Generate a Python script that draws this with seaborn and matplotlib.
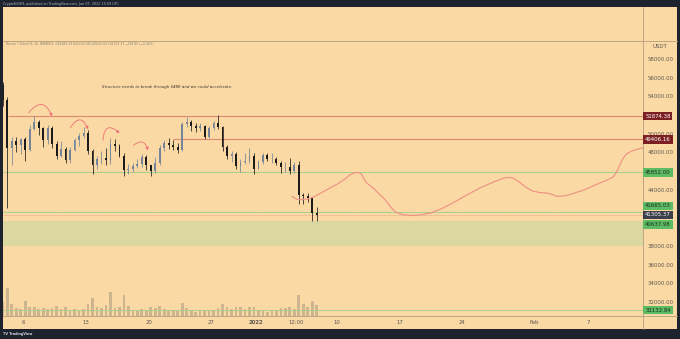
import numpy as np
import pandas as pd
import matplotlib
matplotlib.use("Agg")
import matplotlib.pyplot as plt
import matplotlib.transforms as mtransforms
from matplotlib.patches import Rectangle, FancyArrowPatch
from matplotlib.lines import Line2D
import seaborn as sns

# ---------------------------------------------------------------- data
REF = pd.Timestamp("2022-01-01")

# 12h BTC/USDT candles starting 2021-12-03 12:00 UTC
candle_start = "2021-12-03 12:00"
opens = [55200, 53600, 48500, 49200, 48800, 49400, 48300, 50500, 51300, 50600,
         49300, 50600, 48900, 47600, 48400, 47200, 48300, 49300, 49800, 50100,
         48200, 46700, 47300, 47400, 47200, 48900, 48700, 47600, 46100, 46200,
         46500, 46800, 47500, 46600, 46000, 46900, 48500, 49000, 48800, 48600,
         48300, 51000, 51300, 50800, 50600, 50800, 49700, 50600, 51200, 50700,
         48600, 47600, 47800, 46500, 47000, 47100, 47600, 46200, 47000, 47700,
         47300, 47300, 46900, 46400, 46400, 46000, 46600, 43400, 43300, 43100,
         41490]
highs = [55500, 53900, 49700, 49700, 49500, 49600, 50900, 51900, 51500, 50700,
         50900, 50800, 49200, 49200, 48600, 48600, 49500, 50100, 50700, 50400,
         48400, 47600, 48100, 48500, 49500, 49400, 48900, 47900, 46800, 46900,
         47300, 47800, 47700, 46700, 47500, 48800, 49300, 49500, 49300, 49000,
         51300, 51800, 51500, 51100, 51100, 50900, 50800, 51400, 51950, 50800,
         48800, 48100, 48000, 47300, 47900, 48500, 47900, 47200, 47900, 47900,
         47900, 47500, 47100, 47000, 47400, 47000, 47100, 43700, 43700, 43200,
         42133]
lows = [53000, 42000, 46600, 48000, 47800, 47100, 48200, 50400, 49900, 48600,
        48900, 48500, 47300, 47500, 46900, 46900, 48100, 48700, 49500, 47800,
        45700, 46200, 46800, 46600, 46800, 48200, 47500, 45500, 45700, 45900,
        46300, 46400, 46100, 45500, 45800, 46600, 48200, 48400, 48300, 47900,
        48200, 50700, 50300, 50200, 50300, 49400, 49500, 50400, 50500, 48200,
        47300, 47000, 46200, 45900, 46800, 46900, 45700, 46200, 46800, 47100,
        46900, 46600, 45800, 45900, 45700, 45800, 42500, 42500, 42700, 40700,
        40610]
closes = [53600, 48500, 49200, 48800, 49400, 48300, 50500, 51300, 50600, 49300,
          50600, 48900, 47600, 48400, 47200, 48300, 49300, 49800, 50100, 48200,
          46700, 47300, 47400, 47200, 48900, 48700, 47600, 46100, 46200, 46500,
          46800, 47500, 46600, 46000, 46900, 48500, 49000, 48800, 48600, 48300,
          51000, 51300, 50800, 50600, 50800, 49700, 50600, 51200, 50700, 48600,
          47600, 47800, 46500, 47000, 47100, 47600, 46200, 47000, 47700, 47300,
          47300, 46900, 46400, 46400, 46000, 46600, 43400, 43300, 43100, 41500,
          41305.37]
volumes = [14, 28, 12, 8, 7, 15, 9, 9, 7, 8, 7, 8, 10, 7, 9, 6, 7, 5, 7, 12,
           18, 9, 8, 11, 24, 8, 9, 21, 10, 6, 5, 7, 6, 9, 8, 10, 7, 6, 6, 6,
           13, 8, 6, 4, 5, 6, 5, 6, 8, 12, 9, 7, 9, 9, 7, 9, 9, 5, 5, 4,
           5, 6, 8, 8, 9, 7, 21, 12, 9, 15, 11]

# RSI pane (days from 2022-01-01, RSI value)
rsi_days = [-28.21, -27.77, -27.45, -26.89, -26.33, -25.78, -25.22, -24.89, -24.11, -23.55,
            -22.99, -22.44, -21.88, -21.32, -20.76, -20.20, -19.65, -19.09, -18.53, -17.97,
            -17.42, -16.86, -16.30, -15.74, -15.19, -14.63, -14.07, -13.51, -12.96, -12.40,
            -11.84, -11.28, -10.73, -10.17, -9.61, -9.05, -8.50, -8.16, -7.72, -7.16,
            -6.60, -6.04, -5.49, -4.93, -4.37, -3.81, -3.26, -2.70, -2.14, -1.58,
            -1.03, -0.47, 0.09, 0.65, 1.20, 1.76, 2.32, 2.88, 3.43, 3.99,
            4.55, 4.88, 5.44, 6.00, 6.56]
rsi_vals = [23.0, 11.0, 20.0, 35.0, 40.0, 42.5, 57.5, 65.0, 60.0, 47.5,
            52.5, 40.0, 47.5, 45.0, 57.5, 52.5, 57.5, 45.0, 35.0, 47.5,
            52.5, 57.5, 45.0, 47.5, 45.0, 35.0, 32.5, 45.0, 40.0, 35.0,
            40.0, 32.5, 65.0, 70.0, 60.0, 57.5, 65.0, 72.5, 70.0, 65.0,
            60.0, 45.0, 47.5, 60.0, 70.0, 35.0, 22.5, 32.5, 35.0, 32.5,
            45.0, 35.0, 47.5, 52.5, 50.0, 52.5, 45.0, 35.0, 45.0, 47.5,
            47.5, 27.5, 27.5, 35.0, 30.0]

# projected path
fc_days = [3.99, 4.50, 4.88, 5.60, 6.22, 7.20, 8.23, 9.10, 9.90, 10.40,
           10.80, 11.10, 11.45, 11.75, 12.00, 12.30, 12.70, 13.10, 13.55, 14.00,
           14.50, 15.00, 15.50, 16.30, 17.20, 18.20, 19.38, 20.60, 21.94, 23.40,
           24.95, 26.50, 27.60, 28.20, 28.70, 29.30, 30.10, 30.86, 31.70, 32.42,
           33.00, 33.54, 34.40, 35.32, 36.60, 37.77, 38.90, 39.78, 40.20, 40.56,
           40.90, 41.30, 42.00, 43.13]
fc_price = [43300, 43000, 42950, 43000, 43150, 43650, 44200, 44650, 45150, 45550,
            45780, 45850, 45830, 45650, 45200, 44750, 44450, 44150, 43700, 43300,
            42800, 42150, 41650, 41350, 41250, 41300, 41500, 41950, 42600, 43400,
            44200, 44850, 45250, 45320, 45250, 44850, 44250, 43850, 43700, 43650,
            43500, 43300, 43350, 43600, 44000, 44500, 44950, 45350, 45900, 46700,
            47350, 47850, 48200, 48500]

# drawn levels
res_levels = [51874.38, 49406.16]
res_start = [-27.7, -9.28]
sup_levels = [45852.00, 41665.03, 31132.84]
zone_low, zone_high = 38000, 40637.98
last_price = 41305.37

# hand-drawn arcs over the rejected highs
arc_x0 = [-25.56, -20.87, -17.08, -13.92]
arc_y0 = [52003, 50398, 49008, 48580]
arc_x1 = [-22.66, -18.64, -15.00, -12.02]
arc_y1 = [51575, 50185, 49864, 47938]
arc_bend = [-0.95, -1.1, -1.15, -0.9]

price_ticks = [32000, 34000, 36000, 38000, 44000, 48000, 50000, 54000, 56000, 58000]
time_tick_dates = ["2021-12-06", "2021-12-13", "2021-12-20", "2021-12-27", "2022-01-01",
                   "2022-01-05 12:00", "2022-01-10", "2022-01-17", "2022-01-24",
                   "2022-02-01", "2022-02-07"]
time_tick_labels = ["6", "13", "20", "27", "2022", "12:00", "10", "17", "24", "Feb", "7"]

note = "Structure needs to break through $48K and we could accelerate."
legend_txt = ("Bitcoin / TetherUS, 2h, BINANCE  O41489.74 H42132.98 L40610.00 "
              "C41305.37 \u2212183.85 (\u22120.44%)")
header_txt = "CryptoNi369, published on TradingView.com, Jan 07, 2022 15:59 UTC"

# ---------------------------------------------------------------- style
sns.set_theme(style="white")
plt.rcParams["font.family"] = ["DejaVu Sans"]

DARK = "#1e222d"
TAN = "#fad9a4"
BAND = "#ebcb9e"
TXT = "#5e5851"
UP = "#76849a"
DOWN = "#1b1b1b"
RED_LINE = "#dc8a72"
GREEN_LINE = "#a9cf8e"
ZONE = "#dcd6a0"
PATH = "#ee8f86"
ARC = "#f07078"

W, H = 680, 339


def rect(x0, y0, x1, y1):
    return [x0 / W, 1 - y1 / H, (x1 - x0) / W, (y1 - y0) / H]


fig = plt.figure(figsize=(W / 100, H / 100), dpi=100, facecolor=DARK)
fig.patches.append(Rectangle((3 / W, 1 - 329 / H), 674 / W, 322 / H,
                             transform=fig.transFigure, facecolor=TAN,
                             edgecolor="none", zorder=0))

to_days = lambda t: (pd.to_datetime(t) - REF) / pd.Timedelta("1D")
times = pd.date_range(candle_start, periods=len(opens), freq="12h")
cx = np.asarray(to_days(times)) + 0.25
o, h, l, c = map(np.asarray, (opens, highs, lows, closes))
col = np.where(c >= o, UP, DOWN)

XMIN, XMAX = -28.23, 43.13
YMIN, YMAX = 30497, 59921

# volume pane (behind price)
vax = fig.add_axes(rect(3, 41, 643, 316))
vax.bar(cx, volumes, width=0.3, color="#8a8072", alpha=0.4, linewidth=0)
vax.set_xlim(XMIN, XMAX)
vax.set_ylim(0, 275)
vax.axis("off")
vax.set_zorder(1)

# price pane
ax = fig.add_axes(rect(3, 41, 643, 316))
ax.set_zorder(2)
ax.patch.set_visible(False)
ax.set_xlim(XMIN, XMAX)
ax.set_ylim(YMIN, YMAX)

ax.axhspan(zone_low, zone_high, color=ZONE, lw=0, zorder=1)
for lv, x0 in zip(res_levels, res_start):
    ax.hlines(lv, x0, XMAX, color=RED_LINE, lw=0.8, zorder=2)
for lv in sup_levels:
    ax.axhline(lv, color=GREEN_LINE, lw=0.7, zorder=2)
ax.axhline(last_price, color="#d99b85", lw=0.5, ls=(0, (1, 1)), zorder=2)

ax.vlines(cx, l, h, colors=col, lw=0.55, zorder=3)
ax.bar(cx, np.maximum(np.abs(c - o), 40), bottom=np.minimum(o, c), width=0.2,
       color=col, linewidth=0, zorder=3)

sns.lineplot(x=fc_days, y=fc_price, ax=ax, color=PATH, lw=0.8, sort=False,
             zorder=4, legend=False)

for x0, y0, x1, y1, b in zip(arc_x0, arc_y0, arc_x1, arc_y1, arc_bend):
    ax.add_patch(FancyArrowPatch((x0, y0), (x1, y1),
                                 connectionstyle=f"arc3,rad={b}",
                                 arrowstyle="-|>,head_length=1.6,head_width=0.8",
                                 color=ARC, lw=0.6, mutation_scale=1, zorder=5))

bt = mtransforms.blended_transform_factory(ax.transAxes, ax.transData)
ax.text(164 / 640, 59921 - (87 - 41) / 0.009346, note, ha="center",
        va="center", fontsize=2.9, fontstyle="italic", color="#3a3530",
        transform=bt)
ax.text(3 / 640, 1 - 3 / 275, legend_txt, transform=ax.transAxes, ha="left",
        va="center", fontsize=2.2, color="#8a8176")

for s in ax.spines.values():
    s.set_visible(False)

ax.yaxis.tick_right()
ax.set_yticks(price_ticks)
ax.set_yticklabels([f"{v:.2f}" for v in price_ticks])
ax.tick_params(axis="y", length=0, pad=3.2, labelsize=3.9, labelcolor=TXT)
ax.set_xticks([to_days(d) for d in time_tick_dates])
ax.set_xticklabels(time_tick_labels)
ax.tick_params(axis="x", length=0, pad=3.0, labelsize=3.9, labelcolor=TXT)
for lab in ax.get_xticklabels():
    if lab.get_text() == "2022":
        lab.set_fontweight("bold")
ax.set_xlabel("")
ax.set_ylabel("")

# price tags on the scale
tags = [(51874.38, "#7b1f22", "white", 0),
        (49406.16, "#7b1f22", "white", 0),
        (45852.00, "#5dbb63", "#1d2a1d", 0),
        (41665.03, "#5dbb63", "#1d2a1d", 4.2),
        (41305.37, "#3b3f4b", "white", 0),
        (40637.98, "#5dbb63", "#1d2a1d", -2.4),
        (31132.84, "#5dbb63", "#1d2a1d", 0)]
for val, fc, tc, dy in tags:
    tr = mtransforms.offset_copy(bt, fig=fig, x=0, y=dy, units="points")
    ax.text(1 + 2.2 / 640, val, f"{val:.2f}", transform=tr, ha="left",
            va="center", fontsize=3.9, color=tc, zorder=10, clip_on=False,
            bbox=dict(boxstyle="square,pad=0.32", fc=fc, ec="none"))
ax.text(1 + 17 / 640, 1 - 6 / 275, "USDT", transform=ax.transAxes, ha="center",
        va="center", fontsize=3.9, color=TXT)

# RSI pane
rax = fig.add_axes(rect(3, 7, 643, 40))
rax.patch.set_visible(False)
rax.set_xlim(XMIN, XMAX)
rax.set_ylim(3.25, 85.75)
rax.axhspan(30, 70, color=BAND, lw=0, zorder=1)
for lv in (30, 70):
    rax.axhline(lv, color="#d9b98c", lw=0.4, ls=(0, (2, 2)), zorder=1)
sns.lineplot(x=rsi_days, y=rsi_vals, ax=rax, color="#4d4a45", lw=0.5,
             sort=False, zorder=3, legend=False)
for s in rax.spines.values():
    s.set_visible(False)
rax.set_xticks([])
rax.yaxis.tick_right()
rax.set_yticks([50])
rax.set_yticklabels(["50.00"])
rax.tick_params(axis="y", length=0, pad=3.2, labelsize=3.9, labelcolor=TXT)
rax.set_xlabel("")
rax.set_ylabel("")

# pane separators
sep = "#bfa682"
fig.add_artist(Line2D([3 / W, 677 / W], [1 - 40.5 / H] * 2, color=sep, lw=0.7,
                      transform=fig.transFigure))
fig.add_artist(Line2D([3 / W, 677 / W], [1 - 316 / H] * 2, color=sep, lw=0.7,
                      transform=fig.transFigure))
fig.add_artist(Line2D([643 / W] * 2, [1 - 7 / H, 1 - 329 / H], color=sep, lw=0.7,
                      transform=fig.transFigure))

fig.text(3 / W, 1 - 3.6 / H, header_txt, ha="left", va="center", fontsize=2.4,
         color="#b2b5be")
fig.text(3 / W, 1 - 334 / H, "TV TradingView", ha="left", va="center",
         fontsize=2.4, color="#d1d4dc", fontweight="bold")

fig.savefig("out.png", dpi=100, facecolor=DARK)
